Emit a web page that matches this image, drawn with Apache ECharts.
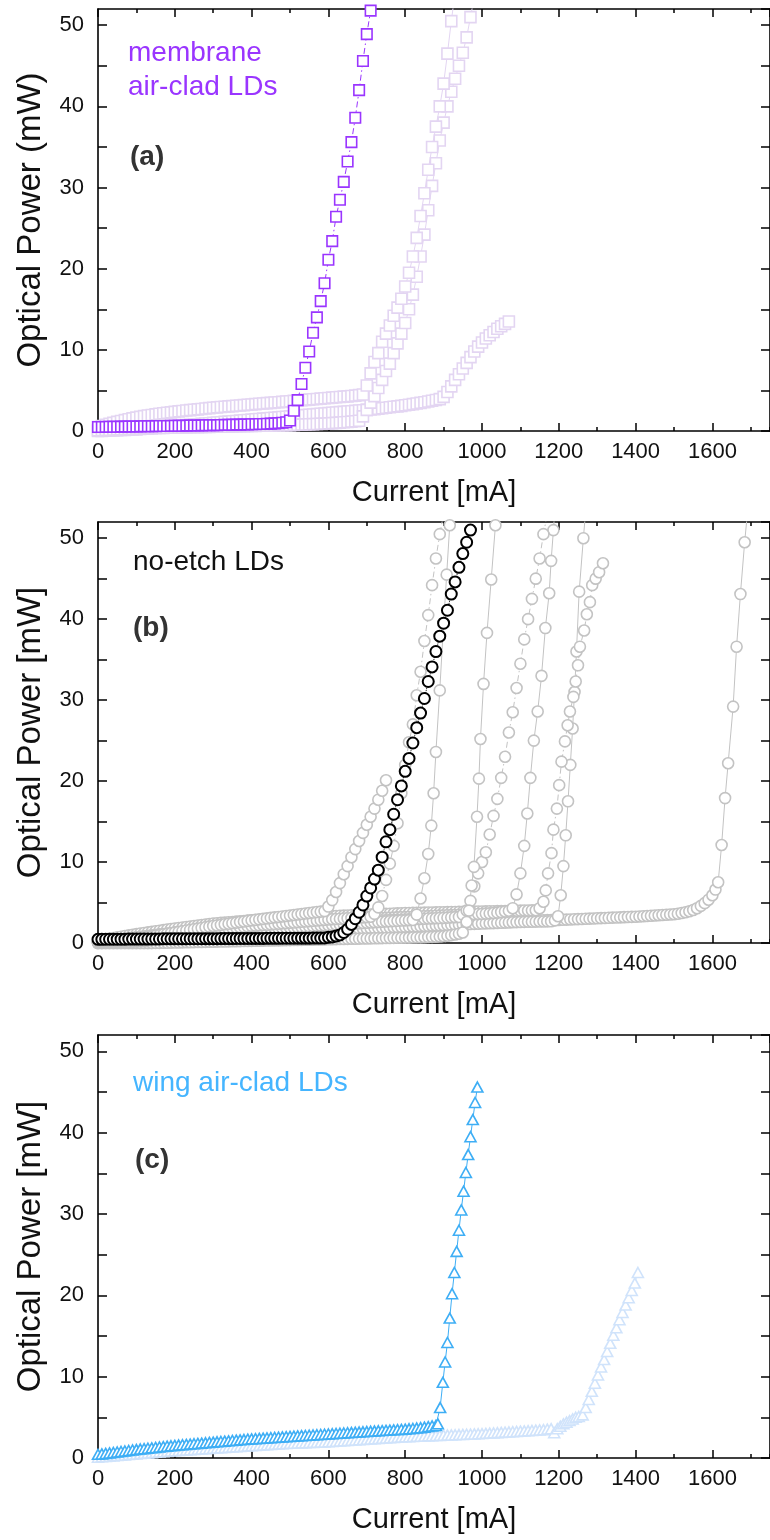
<!DOCTYPE html>
<html>
<head>
<meta charset="utf-8">
<script src="https://cdn.jsdelivr.net/npm/echarts@6.0.0/dist/echarts.min.js"></script>
<style>html,body{margin:0;padding:0;background:#fff}#c{width:770px;height:1540px}</style>
</head>
<body>
<div id="c"></div>
<script>
// ---------- measurement grid (current, mA) for the sub-threshold parts ----------
const CURRENT_GRID = [
  0,10,20,30,40,50,60,70,80,90,
  100,110,120,130,140,150,160,170,180,190,
  200,210,220,230,240,250,260,270,280,290,
  300,310,320,330,340,350,360,370,380,390,
  400,410,420,430,440,450,460,470,480,490,
  500,510,520,530,540,550,560,570,580,590,
  600,610,620,630,640,650,660,670,680,690,
  700,710,720,730,740,750,760,770,780,790,
  800,810,820,830,840,850,860,870,880,890,
  900,910,920,930,940,950,960,970,980,990,
  1000,1010,1020,1030,1040,1050,1060,1070,1080,1090,
  1100,1110,1120,1130,1140,1150,1160,1170,1180,1190,
  1200,1210,1220,1230,1240,1250,1260,1270,1280,1290,
  1300,1310,1320,1330,1340,1350,1360,1370,1380,1390,
  1400,1410,1420,1430,1440,1450,1460,1470,1480,1490,
  1500,1510,1520,1530,1540,1550,1560,1570,1580,1590
];
const X_TICK_LABELS = [0,200,400,600,800,1000,1200,1400,1600];
const Y_TICK_LABELS = [0,10,20,30,40,50];

// ---------- panel (a): membrane air-clad LDs ----------
const aMainFlat = [
  0.50,0.50,0.51,0.52,0.52,0.53,0.54,0.54,0.55,0.56,
  0.56,0.57,0.58,0.58,0.59,0.60,0.61,0.61,0.62,0.63,
  0.64,0.64,0.65,0.66,0.67,0.68,0.68,0.69,0.70,0.71,
  0.72,0.73,0.74,0.75,0.76,0.77,0.78,0.79,0.80,0.81,
  0.83,0.84,0.86,0.87,0.89,0.91,0.94,0.97,1.01,1.07
];
const aMainRise = [[500,1.3],[510,2.5],[520,3.8],[530,5.8],[540,7.8],[550,9.8],[560,12.1],[570,14.0],[580,16.0],[590,18.2],[600,21.1],[610,23.4],[620,26.4],[630,28.5],[640,30.7],[650,33.2],[660,35.6],[670,38.6],[680,42.0],[690,45.6],[700,48.9],[710,51.8]];

const aLight1Flat = [
  0.50,0.62,0.75,0.88,1.00,1.12,1.23,1.34,1.45,1.55,
  1.65,1.74,1.83,1.91,1.98,2.05,2.12,2.18,2.24,2.30,
  2.36,2.42,2.47,2.52,2.57,2.62,2.67,2.72,2.77,2.82,
  2.87,2.91,2.95,2.99,3.03,3.07,3.11,3.15,3.19,3.23,
  3.27,3.31,3.35,3.39,3.43,3.47,3.51,3.55,3.59,3.63,
  3.67,3.71,3.75,3.79,3.83,3.87,3.91,3.95,3.99,4.03,
  4.07,4.11,4.15,4.19,4.23,4.27,4.31,4.36,4.42,4.50
];
const aLight1Rise = [[700,5.6],[710,7.1],[720,8.5],[730,9.6],[740,11.0],[750,12.0],[760,13.0],[770,14.2],[780,15.2],[790,16.3],[800,17.8],[810,19.5],[820,21.5],[830,23.8],[840,26.5],[850,29.3],[860,32.2],[870,35.0],[880,37.5],[890,40.0],[900,42.8],[910,46.5],[920,50.5],[930,54.0]];

const aLight2Flat = [
  0.10,0.12,0.14,0.16,0.18,0.20,0.22,0.24,0.26,0.28,
  0.30,0.31,0.33,0.34,0.35,0.37,0.38,0.39,0.40,0.41,
  0.42,0.43,0.44,0.45,0.46,0.47,0.48,0.49,0.50,0.51,
  0.52,0.53,0.54,0.55,0.56,0.57,0.58,0.59,0.60,0.61,
  0.62,0.63,0.64,0.65,0.66,0.67,0.68,0.69,0.70,0.71,
  0.73,0.75,0.77,0.79,0.81,0.83,0.85,0.87,0.89,0.91,
  0.94,0.97,1.00,1.03,1.07,1.11,1.15,1.20,1.27
];
const aLight2Rise = [[690,1.8],[700,2.6],[710,3.5],[720,4.3],[730,5.3],[740,6.3],[750,7.4],[760,8.3],[770,9.6],[780,10.8],[790,12.0],[800,13.3],[810,15.0],[820,16.8],[830,19.0],[840,21.5],[850,24.2],[860,27.2],[870,30.2],[880,33.0],[890,35.8],[900,38.0],[910,40.0],[920,41.8],[930,43.4],[940,45.0],[950,46.6],[960,48.5],[970,51.0],[980,53.5]];

const aLight3Flat = [
  0.00,0.02,0.04,0.06,0.08,0.10,0.12,0.14,0.16,0.18,
  0.20,0.24,0.28,0.32,0.36,0.40,0.44,0.48,0.52,0.56,
  0.60,0.64,0.68,0.72,0.76,0.80,0.84,0.88,0.92,0.96,
  1.00,1.04,1.08,1.12,1.16,1.20,1.24,1.28,1.32,1.36,
  1.40,1.44,1.48,1.52,1.56,1.60,1.64,1.68,1.72,1.76,
  1.80,1.84,1.88,1.92,1.96,2.00,2.04,2.08,2.12,2.16,
  2.20,2.24,2.28,2.32,2.36,2.40,2.44,2.48,2.52,2.56,
  2.60,2.65,2.70,2.75,2.80,2.86,2.92,2.98,3.04,3.10,
  3.17,3.24,3.31,3.38,3.46,3.54,3.63,3.72,3.82,3.93
];
const aLight3Rise = [[900,4.2],[910,4.8],[920,5.5],[930,6.3],[940,7.0],[950,7.7],[960,8.4],[970,9.1],[980,9.8],[990,10.4],[1000,10.9],[1010,11.4],[1020,11.8],[1030,12.2],[1040,12.6],[1050,12.9],[1060,13.2],[1070,13.5]];

// ---------- panel (b): no-etch LDs ----------
const bMainFlat = [
  0.45,0.45,0.46,0.46,0.46,0.47,0.47,0.47,0.48,0.48,
  0.48,0.49,0.49,0.49,0.50,0.50,0.50,0.51,0.51,0.51,
  0.52,0.52,0.52,0.52,0.53,0.53,0.53,0.53,0.54,0.54,
  0.54,0.54,0.55,0.55,0.55,0.55,0.56,0.56,0.56,0.56,
  0.57,0.57,0.57,0.57,0.58,0.58,0.58,0.58,0.59,0.59,
  0.59,0.59,0.60,0.60,0.60,0.60,0.61,0.61,0.61
];
const bMainRise = [[590,0.62],[600,0.7],[610,0.75],[620,0.85],[630,1.0],[640,1.3],[650,1.7],[660,2.3],[670,3.0],[680,3.8],[690,4.7],[700,5.8],[710,6.8],[720,7.9],[730,9.0],[740,10.6],[750,12.5],[760,14.0],[770,15.9],[780,17.7],[790,19.4],[800,21.2],[810,22.8],[820,24.7],[830,26.6],[840,28.4],[850,30.2],[860,32.3],[870,34.1],[880,36.0],[890,37.9],[900,39.5],[910,41.1],[920,43.1],[930,44.6],[940,46.4],[950,48.1],[960,49.5],[970,51.0]];

const bGray1Flat = [
  0.20,0.22,0.25,0.28,0.31,0.34,0.37,0.40,0.44,0.47,
  0.50,0.57,0.65,0.73,0.81,0.89,0.97,1.05,1.13,1.21,
  1.30,1.38,1.46,1.54,1.62,1.70,1.78,1.86,1.94,2.02,
  2.10,2.17,2.24,2.31,2.38,2.45,2.52,2.59,2.66,2.73,
  2.80,2.86,2.92,2.98,3.04,3.10,3.16,3.22,3.28,3.34,
  3.40,3.46,3.52,3.58,3.64,3.70,3.76,3.82,3.88,3.94
];
const bGray1Rise = [[600,4.5],[610,5.3],[620,6.3],[630,7.4],[640,8.5],[650,9.5],[660,10.6],[670,11.6],[680,12.6],[690,13.6],[700,14.6],[710,15.6],[720,16.6],[730,17.7],[740,18.8],[750,20.1]];

const bGray2Flat = [
  0.10,0.13,0.16,0.19,0.22,0.25,0.28,0.31,0.34,0.37,
  0.40,0.46,0.52,0.58,0.64,0.70,0.76,0.82,0.88,0.94,
  1.00,1.06,1.12,1.18,1.24,1.30,1.36,1.42,1.48,1.54,
  1.60,1.65,1.70,1.75,1.80,1.85,1.90,1.95,2.00,2.05,
  2.10,2.14,2.18,2.22,2.26,2.30,2.34,2.38,2.42,2.46,
  2.50,2.54,2.58,2.62,2.66,2.70,2.74,2.78,2.82,2.86,
  2.90,2.93,2.96,2.99,3.02,3.05,3.08,3.11,3.14,3.17,
  3.20,3.25
];
const bGray2Rise = [[720,3.6],[730,4.4],[740,5.8],[750,7.8],[760,9.8],[770,12.0],[780,14.8],[790,18.5],[800,22.0],[810,24.8],[820,27.0],[830,30.6],[840,33.5],[850,37.3],[860,40.5],[870,44.2],[880,47.5],[890,50.5],[900,53.0]];

const bGray3Flat = [
  0.00,0.02,0.04,0.06,0.08,0.10,0.12,0.14,0.16,0.18,
  0.20,0.24,0.28,0.32,0.36,0.40,0.44,0.48,0.52,0.56,
  0.60,0.65,0.70,0.75,0.80,0.85,0.90,0.95,1.00,1.05,
  1.10,1.14,1.18,1.22,1.26,1.30,1.34,1.38,1.42,1.46,
  1.50,1.54,1.58,1.62,1.66,1.70,1.74,1.78,1.82,1.86,
  1.90,1.93,1.96,1.99,2.02,2.05,2.08,2.11,2.14,2.17,
  2.20,2.23,2.26,2.29,2.32,2.35,2.38,2.41,2.44,2.47,
  2.50,2.53,2.56,2.59,2.62,2.65,2.68,2.71,2.74,2.77,
  2.80,2.82,2.85
];
const bGray3Rise = [[830,3.5],[840,5.5],[850,8.0],[860,11.0],[868,14.5],[874,18.5],[880,23.6],[890,31.2],[900,39.5],[908,45.5],[916,51.6]];

const bGray4Flat = [
  0.00,0.00,0.00,0.00,0.00,0.00,0.00,0.00,0.00,0.00,
  0.00,0.00,0.00,0.00,0.00,0.01,0.02,0.03,0.04,0.05,
  0.06,0.07,0.08,0.09,0.10,0.11,0.12,0.13,0.14,0.15,
  0.16,0.17,0.18,0.19,0.20,0.21,0.22,0.23,0.24,0.25,
  0.26,0.27,0.28,0.29,0.30,0.31,0.32,0.33,0.34,0.35,
  0.36,0.37,0.38,0.39,0.40,0.41,0.42,0.43,0.44,0.45,
  0.46,0.47,0.48,0.49,0.50,0.51,0.52,0.53,0.54,0.55,
  0.56,0.57,0.58,0.59,0.60,0.61,0.62,0.63,0.64,0.65,
  0.66,0.67,0.68,0.69,0.70,0.72,0.74,0.76,0.78,0.80,
  0.84,0.90,0.97,1.05,1.15,1.30
];
const bGray4Rise = [[960,2.6],[966,4.0],[973,7.1],[979,9.4],[987,15.6],[992,20.3],[996,25.2],[1004,32.0],[1013,38.3],[1024,44.9],[1035,51.6],[1045,56.0]];

const bGray5Flat = [
  0.20,0.23,0.26,0.29,0.32,0.35,0.38,0.41,0.44,0.47,
  0.50,0.55,0.60,0.65,0.70,0.75,0.80,0.85,0.90,0.95,
  1.00,1.05,1.10,1.15,1.20,1.25,1.30,1.35,1.40,1.45,
  1.50,1.54,1.58,1.62,1.66,1.70,1.74,1.78,1.82,1.86,
  1.90,1.93,1.96,1.99,2.02,2.05,2.08,2.11,2.14,2.17,
  2.20,2.23,2.26,2.29,2.32,2.35,2.38,2.41,2.44,2.47,
  2.50,2.52,2.54,2.56,2.58,2.60,2.62,2.64,2.66,2.68,
  2.70,2.72,2.74,2.76,2.78,2.80,2.82,2.84,2.86,2.88,
  2.90,2.92,2.94,2.96,2.98,3.00,3.02,3.04,3.06,3.08,
  3.10,3.13,3.16,3.19,3.22
];
const bGray5Rise = [[950,3.5],[960,4.0],[970,5.2],[980,7.0],[990,8.6],[1000,10.0],[1010,11.2],[1020,13.4],[1030,15.7],[1040,17.8],[1050,20.4],[1060,23.0],[1070,26.0],[1080,28.5],[1090,31.5],[1100,34.5],[1110,37.5],[1120,40.0],[1130,42.5],[1140,45.0],[1150,47.5],[1160,50.5],[1170,53.0]];

const bGray6Flat = [
  0.20,0.25,0.30,0.35,0.40,0.45,0.50,0.55,0.60,0.65,
  0.70,0.76,0.82,0.88,0.94,1.00,1.06,1.12,1.18,1.24,
  1.30,1.35,1.40,1.45,1.50,1.55,1.60,1.65,1.70,1.75,
  1.80,1.84,1.88,1.92,1.96,2.00,2.04,2.08,2.12,2.16,
  2.20,2.23,2.26,2.29,2.32,2.35,2.38,2.41,2.44,2.47,
  2.50,2.53,2.56,2.59,2.62,2.65,2.68,2.71,2.74,2.77,
  2.80,2.82,2.84,2.86,2.88,2.90,2.92,2.94,2.96,2.98,
  3.00,3.02,3.04,3.06,3.08,3.10,3.12,3.14,3.16,3.18,
  3.20,3.22,3.24,3.26,3.28,3.30,3.32,3.34,3.36,3.38,
  3.40,3.42,3.44,3.46,3.48,3.50,3.52,3.54,3.56,3.58,
  3.60,3.63,3.66,3.70,3.75,3.82,3.90,3.98
];
const bGray6Rise = [[1080,4.3],[1090,6.0],[1100,8.6],[1110,12.0],[1118,16.0],[1126,20.4],[1135,25.0],[1145,28.6],[1155,33.0],[1165,38.9],[1175,43.2],[1180,47.2],[1186,51.0],[1192,55.0]];

const bGray7Flat = [
  0.30,0.38,0.46,0.54,0.62,0.70,0.78,0.86,0.94,1.02,
  1.10,1.17,1.24,1.31,1.38,1.45,1.52,1.59,1.66,1.73,
  1.80,1.86,1.92,1.98,2.04,2.10,2.16,2.22,2.28,2.34,
  2.40,2.44,2.48,2.52,2.56,2.60,2.64,2.68,2.72,2.76,
  2.80,2.83,2.86,2.89,2.92,2.95,2.98,3.01,3.04,3.07,
  3.10,3.12,3.14,3.16,3.18,3.20,3.22,3.24,3.26,3.28,
  3.30,3.32,3.34,3.36,3.38,3.40,3.42,3.44,3.46,3.48,
  3.50,3.52,3.54,3.56,3.58,3.60,3.62,3.64,3.66,3.68,
  3.70,3.71,3.72,3.73,3.74,3.75,3.76,3.77,3.78,3.79,
  3.80,3.81,3.82,3.83,3.84,3.85,3.86,3.87,3.88,3.89,
  3.90,3.91,3.92,3.93,3.94,3.95,3.96,3.97,3.98,3.99,
  4.00,4.01,4.02,4.03,4.05
];
const bGray7Rise = [[1150,4.3],[1160,5.1],[1166,6.5],[1172,8.6],[1181,11.1],[1186,14.0],[1195,16.6],[1201,19.5],[1207,22.4],[1216,24.9],[1223,26.9],[1229,28.6],[1238,30.4],[1244,32.3],[1250,34.3],[1255,36.6],[1266,38.6],[1273,40.6],[1281,42.1],[1287,44.2],[1296,45.0],[1305,45.8],[1315,46.9]];

const bGray8Flat = [
  0.00,0.00,0.00,0.00,0.00,0.00,0.00,0.00,0.00,0.00,
  0.00,0.00,0.00,0.00,0.02,0.05,0.08,0.11,0.14,0.17,
  0.20,0.24,0.28,0.32,0.36,0.40,0.44,0.48,0.52,0.56,
  0.60,0.64,0.68,0.72,0.76,0.80,0.84,0.88,0.92,0.96,
  1.00,1.03,1.06,1.09,1.12,1.15,1.18,1.21,1.24,1.27,
  1.30,1.33,1.36,1.39,1.42,1.45,1.48,1.51,1.54,1.57,
  1.60,1.62,1.64,1.66,1.68,1.70,1.72,1.74,1.76,1.78,
  1.80,1.82,1.84,1.86,1.88,1.90,1.92,1.94,1.96,1.98,
  2.00,2.02,2.04,2.06,2.08,2.10,2.12,2.14,2.16,2.18,
  2.20,2.22,2.24,2.26,2.28,2.30,2.32,2.34,2.36,2.38,
  2.40,2.42,2.44,2.46,2.48,2.50,2.52,2.54,2.56,2.58,
  2.60,2.61,2.62,2.63,2.64,2.65,2.66,2.67,2.68
];
const bGray8Rise = [[1190,2.8],[1198,3.3],[1205,5.9],[1212,9.5],[1218,13.3],[1224,17.5],[1230,22.0],[1236,26.5],[1241,31.0],[1246,36.0],[1253,43.4],[1264,50.0],[1272,54.5]];

const bGray9Flat = [
  0.10,0.14,0.18,0.22,0.26,0.30,0.34,0.38,0.42,0.46,
  0.50,0.54,0.58,0.62,0.66,0.70,0.74,0.78,0.82,0.86,
  0.90,0.93,0.96,0.99,1.02,1.05,1.08,1.11,1.14,1.17,
  1.20,1.23,1.26,1.29,1.32,1.35,1.38,1.41,1.44,1.47,
  1.50,1.52,1.55,1.57,1.60,1.62,1.65,1.67,1.70,1.72,
  1.75,1.77,1.79,1.81,1.83,1.85,1.87,1.89,1.91,1.93,
  1.95,1.97,1.99,2.01,2.03,2.05,2.07,2.09,2.11,2.13,
  2.15,2.16,2.18,2.19,2.21,2.22,2.24,2.25,2.27,2.28,
  2.30,2.31,2.33,2.34,2.36,2.37,2.39,2.40,2.42,2.43,
  2.45,2.46,2.48,2.49,2.51,2.52,2.54,2.55,2.57,2.58,
  2.60,2.61,2.63,2.64,2.66,2.67,2.69,2.70,2.72,2.73,
  2.75,2.76,2.77,2.78,2.79,2.80,2.81,2.82,2.83,2.84,
  2.85,2.87,2.89,2.91,2.93,2.95,2.97,2.99,3.01,3.03,
  3.05,3.07,3.09,3.11,3.13,3.15,3.17,3.19,3.21,3.23,
  3.25,3.28,3.31,3.34,3.37,3.40,3.43,3.46,3.49,3.52,
  3.56,3.62,3.70,3.80,3.92,4.08,4.30,4.58,4.92,5.35
];
const bGray9Rise = [[1600,5.9],[1608,6.6],[1615,7.5],[1624,12.1],[1633,17.9],[1641,22.2],[1654,29.2],[1663,36.6],[1673,43.1],[1684,49.5],[1695,55.0]];

// ---------- panel (c): wing air-clad LDs ----------
const cMainFlat = [
  0.45,0.50,0.56,0.62,0.68,0.74,0.80,0.86,0.92,0.98,
  1.04,1.10,1.15,1.20,1.25,1.30,1.35,1.40,1.45,1.50,
  1.55,1.59,1.63,1.67,1.71,1.75,1.79,1.83,1.87,1.91,
  1.95,1.99,2.03,2.07,2.11,2.15,2.19,2.23,2.27,2.31,
  2.35,2.38,2.41,2.44,2.47,2.50,2.53,2.56,2.59,2.62,
  2.65,2.68,2.71,2.74,2.77,2.80,2.83,2.86,2.89,2.92,
  2.95,2.98,3.01,3.04,3.07,3.10,3.13,3.16,3.19,3.22,
  3.25,3.28,3.31,3.34,3.37,3.40,3.43,3.46,3.49,3.52,
  3.55,3.59,3.63,3.68,3.73,3.79,3.86,3.94
];
const cMainRise = [[880,4.0],[885,4.2],[891,6.2],[898,9.3],[904,11.8],[910,14.2],[916,17.2],[922,20.2],[928,22.8],[934,25.4],[940,28.0],[946,30.5],[952,32.8],[958,35.1],[964,37.3],[970,39.5],[976,41.6],[982,43.7],[988,45.6]];

const cLightFlat = [
  0.10,0.14,0.18,0.22,0.26,0.30,0.34,0.38,0.42,0.46,
  0.50,0.54,0.58,0.62,0.66,0.70,0.74,0.78,0.82,0.86,
  0.90,0.93,0.96,0.99,1.02,1.05,1.08,1.11,1.14,1.17,
  1.20,1.23,1.26,1.29,1.32,1.35,1.38,1.41,1.44,1.47,
  1.50,1.53,1.56,1.59,1.62,1.65,1.68,1.71,1.74,1.77,
  1.80,1.82,1.84,1.86,1.88,1.90,1.92,1.94,1.96,1.98,
  2.00,2.03,2.06,2.09,2.12,2.15,2.18,2.21,2.24,2.27,
  2.30,2.33,2.36,2.39,2.42,2.45,2.48,2.51,2.54,2.57,
  2.60,2.62,2.64,2.66,2.68,2.70,2.72,2.74,2.76,2.78,
  2.80,2.82,2.84,2.86,2.88,2.90,2.92,2.94,2.96,2.98,
  3.00,3.03,3.06,3.09,3.12,3.15,3.18,3.21,3.24,3.27,
  3.30,3.33,3.36,3.39,3.42,3.45,3.48,3.55
];
const cLightRise = [[1180,3.6],[1188,3.1],[1196,3.6],[1204,3.9],[1212,4.2],[1220,4.4],[1228,4.6],[1236,4.8],[1244,5.0],[1252,5.1],[1262,5.3],[1270,6.2],[1278,7.2],[1286,8.2],[1294,9.2],[1302,10.2],[1310,11.2],[1318,12.1],[1326,13.1],[1334,14.1],[1342,15.1],[1350,16.0],[1358,17.0],[1366,17.9],[1374,18.8],[1382,19.7],[1390,20.6],[1398,21.5],[1406,22.8]];

// ---------- build ----------
const FONT = "'Liberation Sans', Arial, Helvetica, sans-serif";
function curve(flat, rise) {
  return flat.map((p, i) => [CURRENT_GRID[i], p]).concat(rise);
}
const PANELS = [
  { top: 9, height: 422, yName: 'Optical Power (mW)' },
  { top: 522, height: 421, yName: 'Optical Power [mW]' },
  { top: 1035, height: 423, yName: 'Optical Power [mW]' }
];
const X_MAX = 1750, Y_MAX = 52;

const grids = [], xAxes = [], yAxes = [];
PANELS.forEach((p, g) => {
  grids.push({ left: 98, top: p.top, width: 676, height: p.height, containLabel: false });
  const base = { type: 'value', gridIndex: g, min: 0, max: X_MAX, splitLine: { show: false } };
  xAxes.push(Object.assign({}, base, {
    position: 'bottom', interval: 200,
    axisLine: { show: true, onZero: false, lineStyle: { color: '#000', width: 1.6 } },
    axisTick: { show: true, inside: true, length: 8, lineStyle: { color: '#000', width: 1.5 } },
    axisLabel: { show: true, margin: 10, fontSize: 22, color: '#111', fontFamily: FONT, showMaxLabel: false,
      formatter: v => (X_TICK_LABELS.indexOf(v) >= 0 ? String(v) : '') },
    name: 'Current [mA]', nameLocation: 'middle', nameGap: 47,
    nameTextStyle: { fontSize: 29, color: '#111', fontFamily: FONT }
  }));
  xAxes.push(Object.assign({}, base, {
    position: 'bottom', interval: 100,
    axisLine: { show: false, onZero: false },
    axisTick: { show: true, inside: true, length: 4, lineStyle: { color: '#000', width: 1.5 } },
    axisLabel: { show: false }
  }));
  xAxes.push(Object.assign({}, base, {
    position: 'top', interval: 200,
    axisLine: { show: true, onZero: false, lineStyle: { color: '#000', width: 1.6 } },
    axisTick: { show: true, inside: true, length: 8, lineStyle: { color: '#000', width: 1.5 } },
    axisLabel: { show: false }
  }));
  xAxes.push(Object.assign({}, base, {
    position: 'top', interval: 100,
    axisLine: { show: false, onZero: false },
    axisTick: { show: true, inside: true, length: 4, lineStyle: { color: '#000', width: 1.5 } },
    axisLabel: { show: false }
  }));
  const ybase = { type: 'value', gridIndex: g, min: 0, max: Y_MAX, interval: 5, splitLine: { show: false } };
  yAxes.push(Object.assign({}, ybase, {
    position: 'left',
    axisLine: { show: true, onZero: false, lineStyle: { color: '#000', width: 1.6 } },
    axisTick: { show: true, inside: true, length: 9, lineStyle: { color: '#000', width: 1.5 } },
    axisLabel: { show: true, margin: 14, fontSize: 22, color: '#111', fontFamily: FONT, showMaxLabel: false,
      formatter: v => (Y_TICK_LABELS.indexOf(v) >= 0 ? String(v) : '') },
    name: p.yName, nameLocation: 'middle', nameGap: 51, nameRotate: 90,
    nameTextStyle: { fontSize: 33, color: '#111', fontFamily: FONT }
  }));
  yAxes.push(Object.assign({}, ybase, {
    position: 'right',
    axisLine: { show: true, onZero: false, lineStyle: { color: '#000', width: 1.6 } },
    axisTick: { show: true, inside: true, length: 9, lineStyle: { color: '#000', width: 1.5 } },
    axisLabel: { show: false }
  }));
});

function mk(g, data, o) {
  return {
    type: 'line', xAxisIndex: g * 4, yAxisIndex: g * 2, data: data,
    symbol: o.symbol, symbolSize: o.size, showAllSymbol: true, clip: true,
    itemStyle: { color: '#fff', borderColor: o.color, borderWidth: o.bw || 1.6 },
    lineStyle: { color: o.color, width: o.lw || 1, type: o.dash || 'solid' },
    z: o.z || 2, silent: true, animation: false
  };
}
const PURPLE = '#9a35ff', LAV = '#e3d5f2', GRAY = '#c3c3c3', BLUE = '#3eaef5', LBLUE = '#d0e3fb';
const DASHDOT = [6, 3, 1.5, 3];
const SQ = 10.5, SQL = 11, CI = 11, TRI = [11, 10];
const series = [
  mk(0, curve(aLight3Flat, aLight3Rise), { symbol: 'rect', size: SQL, color: LAV, z: 2 }),
  mk(0, curve(aLight2Flat, aLight2Rise), { symbol: 'rect', size: SQL, color: LAV, z: 2 }),
  mk(0, curve(aLight1Flat, aLight1Rise), { symbol: 'rect', size: SQL, color: LAV, z: 2 }),
  mk(0, curve(aMainFlat, aMainRise), { symbol: 'rect', size: SQ, color: PURPLE, dash: DASHDOT, z: 3 }),

  mk(1, curve(bGray9Flat, bGray9Rise), { symbol: 'circle', size: CI, color: GRAY, bw: 1.6 }),
  mk(1, curve(bGray8Flat, bGray8Rise), { symbol: 'circle', size: CI, color: GRAY, bw: 1.6 }),
  mk(1, curve(bGray7Flat, bGray7Rise), { symbol: 'circle', size: CI, color: GRAY, bw: 1.6, dash: DASHDOT }),
  mk(1, curve(bGray6Flat, bGray6Rise), { symbol: 'circle', size: CI, color: GRAY, bw: 1.6 }),
  mk(1, curve(bGray5Flat, bGray5Rise), { symbol: 'circle', size: CI, color: GRAY, bw: 1.6, dash: DASHDOT }),
  mk(1, curve(bGray4Flat, bGray4Rise), { symbol: 'circle', size: CI, color: GRAY, bw: 1.6 }),
  mk(1, curve(bGray3Flat, bGray3Rise), { symbol: 'circle', size: CI, color: GRAY, bw: 1.6 }),
  mk(1, curve(bGray2Flat, bGray2Rise), { symbol: 'circle', size: CI, color: GRAY, bw: 1.6, dash: DASHDOT }),
  mk(1, curve(bGray1Flat, bGray1Rise), { symbol: 'circle', size: CI, color: GRAY, bw: 1.6 }),
  mk(1, curve(bMainFlat, bMainRise), { symbol: 'circle', size: CI, color: '#000', bw: 2, dash: 'dotted', z: 3 }),

  mk(2, curve(cLightFlat, cLightRise), { symbol: 'triangle', size: TRI, color: LBLUE }),
  mk(2, curve(cMainFlat, cMainRise), { symbol: 'triangle', size: TRI, color: BLUE, z: 3 })
];

function txt(x, y, text, color, bold) {
  return { type: 'text', x: x, y: y, z: 10, silent: true,
    style: { text: text, fill: color, font: (bold ? 'bold ' : '') + '28px ' + FONT, align: 'left', verticalAlign: 'middle' } };
}
const graphics = [
  txt(128, 53, 'membrane', PURPLE),
  txt(128, 87, 'air-clad LDs', PURPLE),
  txt(130, 157, '(a)', '#333', true),
  txt(133, 562, 'no-etch LDs', '#111'),
  txt(133, 628, '(b)', '#333', true),
  txt(133, 1083, 'wing air-clad LDs', '#45b5ff'),
  txt(135, 1160, '(c)', '#333', true)
];

const chart = echarts.init(document.getElementById('c'), null, { renderer: 'canvas' });
chart.setOption({
  animation: false,
  backgroundColor: '#fff',
  grid: grids, xAxis: xAxes, yAxis: yAxes,
  series: series,
  graphic: graphics
});
</script>
</body>
</html>
